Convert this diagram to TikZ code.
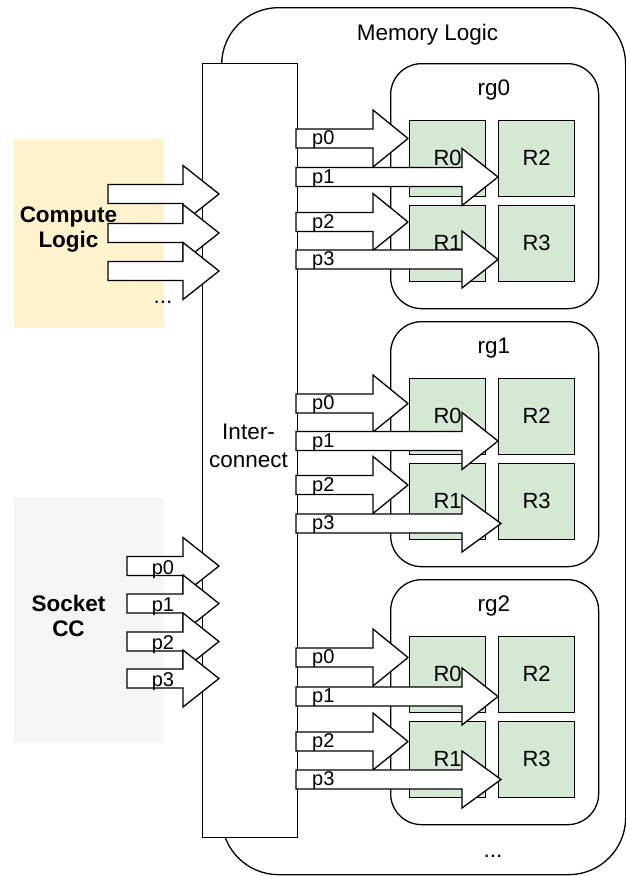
\documentclass[tikz,border=0pt]{standalone}
\usepackage{fontspec}
\setmainfont{Liberation Sans}
\definecolor{computefill}{HTML}{FFF2CC}
\definecolor{socketfill}{HTML}{F5F5F5}
\definecolor{regfill}{HTML}{D5E8D4}
\newcommand{\FatArrow}[4]{%
  \draw[fatarrow] (#1,#2-9.5) -- (#3,#2-9.5) -- (#3,#2-28.5) -- (#4,#2) -- (#3,#2+28.5) -- (#3,#2+9.5) -- (#1,#2+9.5) -- cycle;}
\tikzset{
  lbl/.style={font=\fontsize{22.5}{28}\selectfont, inner sep=0},
  blbl/.style={font=\fontsize{22.5}{25}\selectfont\bfseries, inner sep=0, align=center},
  plbl/.style={font=\fontsize{20}{22}\selectfont, inner sep=0},
  box/.style={draw, line width=1.3pt, inner sep=0, anchor=north west},
  rgbox/.style={box, fill=white, rounded corners=31pt, minimum width=208pt, minimum height=245pt},
  regbox/.style={box, fill=regfill, minimum width=76pt, minimum height=76pt, font=\fontsize{22}{25}\selectfont},
  fatarrow/.style={draw, fill=white, line width=1.3pt, line join=miter},
}
\begin{document}
\begin{tikzpicture}[x=1pt, y=-1pt]
\useasboundingbox (0,0) rectangle (626,876);
% background blocks
\node[inner sep=0, anchor=north west, fill=computefill, minimum width=150pt, minimum height=189pt] (cl) at (14,139) {};
\node[inner sep=0, anchor=north west, fill=socketfill, minimum width=150pt, minimum height=245pt] (sc) at (14,498) {};
% memory logic
\node[box, fill=white, rounded corners=57pt, minimum width=404pt, minimum height=867pt] (ml) at (221,7) {};
\node[lbl, anchor=base] (mltitle) at (427.5,40) {Memory Logic};
\node[lbl, anchor=base] (mldots) at (493,857) {...};
% interconnect
\node[box, fill=white, minimum width=95pt, minimum height=774pt] (ic) at (202,63) {};
\node[lbl, align=center] (ictext) at (248.5,445.5) {Inter-\\connect};
% register groups
\foreach \i/\T/\a/\b/\c/\d/\e in {0/63/138.5/177/222/259.5/498, 1/321/403.5/441/485/523.5/501, 2/579/657.5/696.5/741.5/779.5/501}{
  \node[rgbox] (rg\i) at (390,\T) {};
  \node[lbl, anchor=base] (rgl\i) at (494,\T+32) {rg\i};
  \node[regbox] (R0-\i) at (409,\T+56.5) {R0};
  \node[regbox] (R2-\i) at (498,\T+56.5) {R2};
  \node[regbox] (R1-\i) at (409,\T+141.5) {R1};
  \node[regbox] (R3-\i) at (498,\T+141.5) {R3};
  \FatArrow{296}{\a}{373}{408}
  \FatArrow{296}{\b}{462}{498}
  \FatArrow{296}{\c}{373}{408}
  \FatArrow{296}{\d}{462}{\e}
  \node[plbl, anchor=base west] (pa\i) at (312,\a+6) {p0};
  \node[plbl, anchor=base west] (pb\i) at (312,\b+6) {p1};
  \node[plbl, anchor=base west] (pc\i) at (312,\c+6) {p2};
  \node[plbl, anchor=base west] (pd\i) at (312,\d+6) {p3};
}
% compute logic arrows
\FatArrow{108}{194}{183}{219}
\FatArrow{108}{233}{183}{219}
\FatArrow{108}{271}{183}{219}
\node[lbl, anchor=base] (cldots) at (163,303) {...};
\node[blbl] (cltext) at (68.5,230) {Compute\\Logic};
% socket arrows
\FatArrow{127}{566}{183}{219}
\FatArrow{127}{603.5}{183}{219}
\FatArrow{127}{641.5}{183}{219}
\FatArrow{127}{678.5}{183}{219}
\node[plbl, anchor=base] (sp0) at (163,574) {p0};
\node[plbl, anchor=base] (sp1) at (163,611.5) {p1};
\node[plbl, anchor=base] (sp2) at (163,649.5) {p2};
\node[plbl, anchor=base] (sp3) at (163,686.5) {p3};
\node[blbl] (sctext) at (68.5,616) {Socket\\CC};
\end{tikzpicture}
\end{document}
